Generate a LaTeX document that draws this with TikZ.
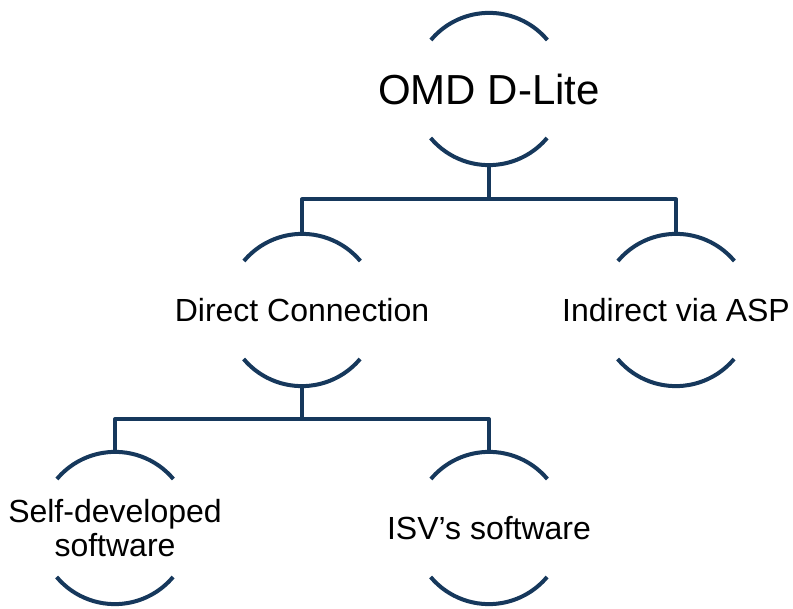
\documentclass[tikz,border=0pt]{standalone}
\usepackage{fontspec}
\setmainfont{Liberation Sans}
\usetikzlibrary{calc}
\definecolor{navy}{RGB}{22,56,92}

\begin{document}
\begin{tikzpicture}[x=1pt,y=1pt,
  hub/.style={circle,minimum size=152pt,inner sep=0pt},
  rim/.style={draw=navy,line width=4pt},
  link/.style={draw=navy,line width=4pt,line join=round},
  big/.style={font=\fontsize{42}{48}\selectfont},
  small/.style={font=\fontsize{32}{34}\selectfont,align=center}]
\useasboundingbox (0,0) rectangle (793,-609);
\node[hub,label={[big]center:OMD D-Lite}] (omd) at (489,-89) {};
\node[hub,label={[small]center:Direct Connection}] (direct) at (302,-310) {};
\node[hub,label={[small]center:Indirect via ASP}] (indirect) at (676,-310) {};
\node[hub,label={[small]center:{Self-developed\\software}}] (selfdev) at (115,-528) {};
\node[hub,label={[small]center:ISV’s software}] (isv) at (489,-528) {};
\foreach \n in {omd,direct,indirect,selfdev,isv}{
  \draw[rim] (\n.40) arc[start angle=40,end angle=140,radius=76pt];
  \draw[rim] (\n.220) arc[start angle=220,end angle=320,radius=76pt];
}
\coordinate (j1) at ($(omd.south)!.5!(omd.south |- direct.north)$);
\coordinate (j2) at ($(direct.south)!.5!(direct.south |- selfdev.north)$);
\draw[link] (omd.south) -- (j1);
\draw[link] (direct.north) |- (j1) -| (indirect.north);
\draw[link] (direct.south) -- (j2);
\draw[link] (selfdev.north) |- (j2) -| (isv.north);
\end{tikzpicture}
\end{document}
